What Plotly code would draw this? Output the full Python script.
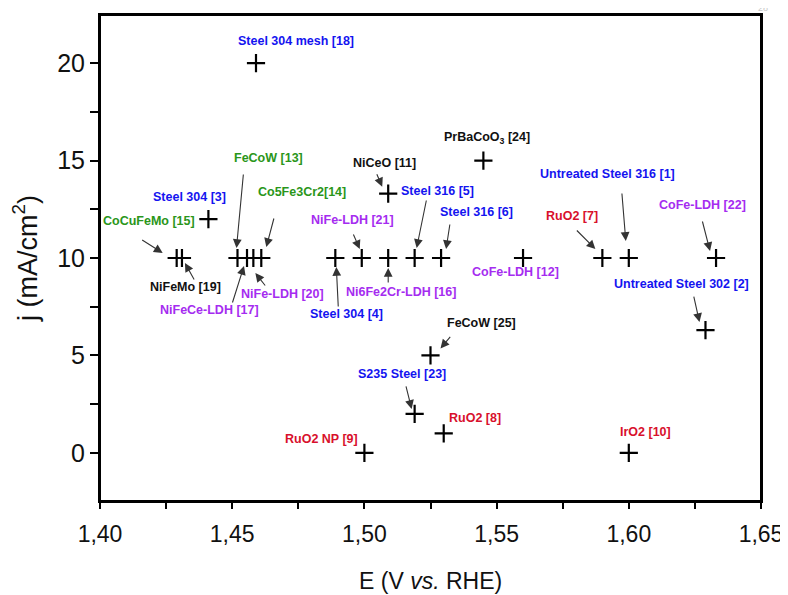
import plotly.graph_objects as go

# ---------------- data ----------------
labels = ["Untreated Steel 316 [1]", "Untreated Steel 302 [2]", "Steel 304 [3]", "Steel 304 [4]",
          "Steel 316 [5]", "Steel 316 [6]", "RuO2 [7]", "RuO2 [8]", "RuO2 NP [9]", "IrO2 [10]",
          "NiCeO [11]", "CoFe-LDH [12]", "FeCoW [13]", "Co5Fe3Cr2[14]", "CoCuFeMo [15]",
          "Ni6Fe2Cr-LDH [16]", "NiFeCe-LDH [17]", "Steel 304 mesh [18]", "NiFeMo [19]",
          "NiFe-LDH [20]", "NiFe-LDH [21]", "CoFe-LDH [22]", "S235 Steel [23]",
          "PrBaCoO<sub>3</sub> [24]", "FeCoW [25]"]
E_values = [1.600, 1.629, 1.441, 1.489, 1.519, 1.529, 1.590, 1.530, 1.500, 1.600,
            1.509, 1.560, 1.452, 1.461, 1.429, 1.509, 1.4556, 1.459, 1.431,
            1.458, 1.499, 1.633, 1.519, 1.545, 1.525]
j_values = [10, 6.3, 12, 10, 10, 10, 10, 1, 0, 0,
            13.3, 10, 10, 10, 10, 10, 10, 20, 10,
            10, 10, 10, 2, 15, 5]
groups = ["steel", "steel", "steel", "steel", "steel", "steel", "noble", "noble", "noble", "noble",
          "other", "ldh", "alloy", "alloy", "alloy", "ldh", "ldh", "steel", "other",
          "ldh", "ldh", "ldh", "steel", "other", "other"]

x_ticks = [1.40, 1.45, 1.50, 1.55, 1.60, 1.65]
y_ticks = [0, 5, 10, 15, 20]
x_title = "E (V <i>vs.</i> RHE)"
y_title = "j (mA/cm<sup>2</sup>)"

# ---------------- styling / label placement (pixels relative to marker) ----------------
group_colors = {"steel": "#1414f0", "noble": "#d8102c", "other": "#111111",
                "ldh": "#a52cf0", "alloy": "#2a961a"}
label_offsets = [(-21, -84), (-24, -46), (-19, -22), (11, 56), (23, -67), (35, -46), (-30, -42),
                 (31, -15), (-43, -14), (17, -21), (-4, -31), (-8, 14), (31, -100), (41, -66),
                 (-28, -37), (13, 34), (-38, 52), (40, -22), (4, 29), (29, 36), (-9, -38),
                 (-14, -53), (-13, -40), (4, -23), (51, -32)]
# (tail dx, tail dy, tip dx, tip dy) or None
arrows = [(-7, -66, -3, -17), (-12, -35, -6, -8), None, (3, 50, 1, 9), (12, -59, 2, -10),
          (9, -35, 5, -9), (-27, -29, -7, -9), None, None, None, (-12, -21, -6, -7), None,
          (6, -85, -1, -10), (13, -41, 5, -11), (-36, -19, -14, -5), (0, 26, 0, 10),
          (-15, 46, -3, 8), None, (13, 23, 3, 5), (13, 29, 2, 15), (-9, -25, -2, -9),
          (-14, -38, -6, -7), (-9, -29, -3, -5), None, (21, -20, 10, -7)]

fig = go.Figure()
fig.add_trace(go.Scatter(
    x=E_values, y=j_values, mode="markers",
    marker=dict(symbol="cross-thin", size=13, line=dict(width=2.2, color="black"), color="black"),
    hoverinfo="x+y", showlegend=False))

annotations = []
for lab, xv, yv, g, off, arr in zip(labels, E_values, j_values, groups, label_offsets, arrows):
    annotations.append(dict(
        x=xv, y=yv, xref="x", yref="y", text="<b>%s</b>" % lab, showarrow=False,
        xshift=off[0], yshift=-off[1], xanchor="center", yanchor="middle",
        font=dict(family="Liberation Sans, Arial", size=12.5, color=group_colors[g])))
    if arr is not None:
        tdx, tdy, pdx, pdy = arr
        annotations.append(dict(
            x=xv, y=yv, xref="x", yref="y", text="", showarrow=True,
            xshift=pdx, yshift=-pdy, ax=tdx - pdx, ay=tdy - pdy,
            axref="pixel", ayref="pixel",
            arrowhead=2, arrowsize=1.6, arrowwidth=1.1, arrowcolor="#333333", standoff=0))

# axis titles as paper annotations (keeps margins fixed)
annotations.append(dict(x=0.5, y=0, xref="paper", yref="paper", text=x_title, showarrow=False,
                        xanchor="center", yanchor="middle", yshift=-80,
                        font=dict(family="Liberation Sans, Arial", size=23, color="#111")))
annotations.append(dict(x=1.003, y=1.0, xref="paper", yref="paper", text="28", showarrow=False,
                        font=dict(family="Liberation Sans", size=9, color="#c8c8c8"),
                        xanchor="center", yanchor="bottom"))

# page body adds an 8px offset, so the figure is 8px smaller and margins shifted
fig.update_layout(
    width=780, height=587,
    margin=dict(l=92, r=27, t=5, b=94),
    paper_bgcolor="white", plot_bgcolor="white",
    separators=",.",
    annotations=annotations,
    shapes=[dict(type="rect", xref="paper", yref="paper", x0=0, x1=1, y0=0, y1=1,
                 line=dict(color="black", width=2), layer="above")],
    xaxis=dict(range=[1.40, 1.65], tickvals=x_ticks, tickformat=".2f",
               ticklabelstandoff=5,
               ticks="outside", ticklen=6, tickwidth=1.5, tickcolor="black",
               minor=dict(dtick=0.025, ticks="outside", ticklen=6, tickwidth=1.5, tickcolor="black"),
               showline=True, linewidth=2, linecolor="black", mirror=True, showgrid=False,
               zeroline=False,
               tickfont=dict(family="Liberation Sans, Arial", size=23, color="#111")),
    yaxis=dict(range=[-2.47, 22.47], tickvals=y_ticks,
               ticks="outside", ticklen=8, tickwidth=1.5, tickcolor="black",
               minor=dict(dtick=2.5, ticks="outside", ticklen=8, tickwidth=1.5, tickcolor="black"),
               showline=True, linewidth=2, linecolor="black", mirror=True, showgrid=False,
               zeroline=False,
               tickfont=dict(family="Liberation Sans, Arial", size=25, color="#111"),
               title=dict(text=y_title, standoff=12,
                          font=dict(family="Liberation Sans, Arial", size=27, color="#111"))),
)

fig.write_html("out.html")
